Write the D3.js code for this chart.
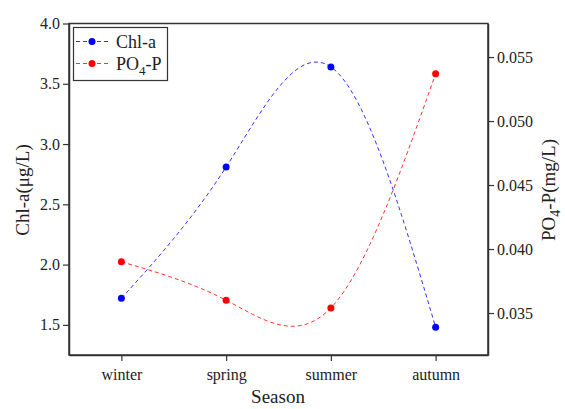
<!DOCTYPE html>
<meta charset="utf-8">
<title>Chl-a and PO4-P by season</title>
<style>
    body { margin: 0; background: #fff; }
    text { font-family: "Liberation Serif", "Times New Roman", serif; fill: #222; }
    .axis path, .axis line { stroke: #333; }
</style>
<svg width="565" height="409"></svg>
<script src="https://cdn.jsdelivr.net/npm/d3@7"></script>
<script>
    var seasons = ["winter", "spring", "summer", "autumn"];
    var chla = [1.72, 2.81, 3.64, 1.48];
    var po4 = [0.0390, 0.0360, 0.0354, 0.0537];
    var leftTicks = [1.5, 2.0, 2.5, 3.0, 3.5, 4.0];
    var rightTicks = [0.035, 0.040, 0.045, 0.050, 0.055];

    var svg = d3.select("svg"),
        plotL = 69, plotR = 488, plotT = 23.5, plotB = 355;

    var x = d3.scalePoint().domain(seasons).range([plotL, plotR]).padding(0.5);
    var yL = d3.scaleLinear().domain([1.25, 4.0]).range([plotB, plotT]);
    var yR = d3.scaleLinear().domain([0.03172, 0.05762]).range([plotB, plotT]);

    // frame
    svg.append("rect")
        .attr("x", plotL).attr("y", plotT)
        .attr("width", plotR - plotL).attr("height", plotB - plotT)
        .attr("fill", "none").attr("stroke", "#333").attr("stroke-width", 1.5);

    var gx = svg.append("g").attr("class", "axis")
        .attr("transform", "translate(0," + plotB + ")")
        .call(d3.axisBottom(x).tickSize(6).tickSizeOuter(0).tickPadding(8));
    var gl = svg.append("g").attr("class", "axis")
        .attr("transform", "translate(" + plotL + ",0)")
        .call(d3.axisLeft(yL).tickValues(leftTicks).tickFormat(d3.format(".1f")).tickSize(6).tickSizeOuter(0).tickPadding(3));
    var gr = svg.append("g").attr("class", "axis")
        .attr("transform", "translate(" + plotR + ",0)")
        .call(d3.axisRight(yR).tickValues(rightTicks).tickFormat(d3.format(".3f")).tickSize(6).tickSizeOuter(0).tickPadding(3));

    [gx, gl, gr].forEach(function (g) {
        g.attr("font-family", "Liberation Serif").attr("font-size", 16);
        g.select(".domain").attr("stroke-width", 1.5);
        g.selectAll(".tick line").attr("stroke-width", 1.2);
        g.selectAll("text")
            .attr("font-family", "Liberation Serif")
            .attr("font-size", 16)
            .attr("fill", "#222");
    });

    var lineL = d3.line()
        .x(function (d, i) { return x(seasons[i]); })
        .y(function (d) { return yL(d); })
        .curve(d3.curveNatural);
    var lineR = d3.line()
        .x(function (d, i) { return x(seasons[i]); })
        .y(function (d) { return yR(d); })
        .curve(d3.curveNatural);

    svg.append("path").attr("d", lineL(chla))
        .attr("fill", "none").attr("stroke", "#3333ff").attr("stroke-width", 1)
        .attr("stroke-dasharray", "4,3");
    svg.append("path").attr("d", lineR(po4))
        .attr("fill", "none").attr("stroke", "#ff3333").attr("stroke-width", 1)
        .attr("stroke-dasharray", "4,3");

    svg.selectAll(".dotL").data(chla).enter().append("circle")
        .attr("cx", function (d, i) { return x(seasons[i]); })
        .attr("cy", function (d) { return yL(d); })
        .attr("r", 3.5).attr("fill", "#0000ff");
    svg.selectAll(".dotR").data(po4).enter().append("circle")
        .attr("cx", function (d, i) { return x(seasons[i]); })
        .attr("cy", function (d) { return yR(d); })
        .attr("r", 3.5).attr("fill", "#ff0000");

    // legend
    var lg = svg.append("g");
    lg.append("rect").attr("x", 73.5).attr("y", 27.5).attr("width", 94).attr("height", 53)
        .attr("fill", "#fff").attr("stroke", "#333").attr("stroke-width", 1.2);
    var items = [
        { name: "Chl-a", color: "#0000ff", line: "#3333ff", y: 41.5 },
        { name: "PO4-P", color: "#ff0000", line: "#ff3333", y: 63.5 }
    ];
    items.forEach(function (it) {
        lg.append("line").attr("x1", 76).attr("x2", 109).attr("y1", it.y).attr("y2", it.y)
            .attr("stroke", it.line).attr("stroke-dasharray", "4,3");
        lg.append("circle").attr("cx", 92).attr("cy", it.y).attr("r", 3.5).attr("fill", it.color);
        var t = lg.append("text").attr("x", 116).attr("y", it.y + 6).style("font-size", "18px");
        if (it.name === "PO4-P") {
            t.append("tspan").text("PO");
            t.append("tspan").attr("dy", 5).style("font-size", "13px").text("4");
            t.append("tspan").attr("dy", -5).text("-P");
        } else {
            t.text(it.name);
        }
    });

    // axis titles
    svg.append("text").attr("x", 278).attr("y", 403).attr("text-anchor", "middle")
        .style("font-size", "19px").text("Season");
    svg.append("text").attr("transform", "translate(29,190) rotate(-90)").attr("text-anchor", "middle")
        .style("font-size", "19px").text("Chl-a(μg/L)");
    var rt = svg.append("text").attr("transform", "translate(555,190) rotate(-90)").attr("text-anchor", "middle")
        .style("font-size", "19px");
    rt.append("tspan").text("PO");
    rt.append("tspan").attr("dy", 5).style("font-size", "14px").text("4");
    rt.append("tspan").attr("dy", -5).text("-P(mg/L)");
</script>
